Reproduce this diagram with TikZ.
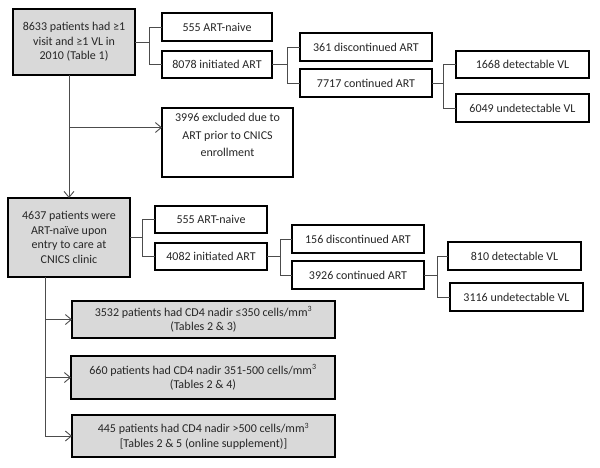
\documentclass[tikz,border=0pt]{standalone}
\usepackage{fontspec}
\setmainfont{Carlito}
\usetikzlibrary{arrows.meta}
\begin{document}
\begin{tikzpicture}[x=1pt,y=-1pt,
  box/.style={draw=black, line width=2.2pt, fill=white, inner sep=0pt, outer sep=0pt,
    align=center, font=\fontsize{12}{14.5}\selectfont, text=black!85},
  greybox/.style={box, fill=black!15},
  txt/.style={inner sep=0pt, align=center, font=\fontsize{12}{17.5}\selectfont, text=black!85},
  conn/.style={draw=black!70, line width=0.9pt},
  arr/.style={conn, -{Straight Barb[length=6pt,width=10pt,line width=0.9pt]}}]
\useasboundingbox[fill=white] (0,0) rectangle (600,467);
% top tree
\node[greybox, minimum width=122pt, minimum height=66pt] (b1) at (74,42) {8633 patients had ≥1\\visit and ≥1 VL in\\2010 (Table 1)};
\node[box, minimum width=110pt, minimum height=28pt] (b555a) at (217,27) {555 ART-naive};
\node[box, minimum width=110pt, minimum height=27pt] (b8078) at (217,64.5) {8078 initiated ART};
\node[box, minimum width=132pt, minimum height=28pt] (b361) at (366,47) {361 discontinued ART};
\node[box, minimum width=132pt, minimum height=28pt] (b7717) at (366,83) {7717 continued ART};
\node[box, minimum width=133pt, minimum height=27pt] (b1668) at (522.5,64.5) {1668 detectable VL};
\node[box, minimum width=133pt, minimum height=28pt] (b6049) at (522.5,108) {6049 undetectable VL};
\node[box, minimum width=131pt, minimum height=69pt] (bexcl) at (227.5,142.5) {};
\node[txt, anchor=north] (texcl) at ([yshift=-5pt]bexcl.north) {3996 excluded due to\\ART prior to CNICS\\enrollment};
% second tree
\node[greybox, minimum width=122pt, minimum height=79pt] (b4637) at (69,237.5) {4637 patients were\\ART-naïve upon\\entry to care at\\CNICS clinic};
\node[box, minimum width=112pt, minimum height=27pt] (b555b) at (211,219.5) {555 ART-naive};
\node[box, minimum width=112pt, minimum height=27pt] (b4082) at (211,256.5) {4082 initiated ART};
\node[box, minimum width=132pt, minimum height=28pt] (b156) at (358,239) {156 discontinued ART};
\node[box, minimum width=132pt, minimum height=28pt] (b3926) at (358,275) {3926 continued ART};
\node[box, minimum width=133pt, minimum height=28pt] (b810) at (514.5,256) {810 detectable VL};
\node[box, minimum width=133pt, minimum height=28pt] (b3116) at (516.5,297) {3116 undetectable VL};
% CD4 boxes
\node[greybox, minimum width=263pt, minimum height=37pt] (b3532) at (203.5,319.5) {3532 patients had CD4 nadir ≤350 cells/mm\textsuperscript{3}\\(Tables 2 \& 3)};
\node[greybox, minimum width=264pt, minimum height=43pt] (b660) at (203,377.5) {660 patients had CD4 nadir 351-500 cells/mm\textsuperscript{3}\\(Tables 2 \& 4)};
\node[greybox, minimum width=263pt, minimum height=42pt] (b445) at (203.5,436) {445 patients had CD4 nadir >500 cells/mm\textsuperscript{3}\\{}[Tables 2 \& 5 (online supplement)]};
% connectors top tree
\coordinate (j1) at ([xshift=-13pt]b555a.west);
\draw[conn] (b1.east) -- (j1 |- b1.east);
\draw[conn] (b555a.west) -| (j1) |- (b8078.west);
\coordinate (j2) at ([xshift=-13pt]b361.west);
\draw[conn] (b8078.east) -- (j2 |- b8078.east);
\draw[conn] (b361.west) -| (j2) |- (b7717.west);
\coordinate (j3) at ([xshift=-13pt]b1668.west);
\draw[conn] (b7717.east) -- (j3 |- b7717.east);
\draw[conn] (b1668.west) -| (j3) |- (b6049.west);
% main flow
\draw[arr] (b1.south -| b4637.north) -- (b4637.north);
\coordinate (ex) at ([yshift=15pt]bexcl.west);
\draw[arr] (b4637.north |- ex) -- (ex);
% connectors second tree
\coordinate (k1) at ([xshift=-13pt]b555b.west);
\draw[conn] (b4637.east) -- (k1 |- b4637.east);
\draw[conn] (b555b.west) -| (k1) |- (b4082.west);
\coordinate (k2) at ([xshift=-12pt]b156.west);
\draw[conn] (b4082.east) -- (k2 |- b4082.east);
\draw[conn] (b156.west) -| (k2) |- (b3926.west);
\coordinate (k3) at ([xshift=-11pt]b810.west);
\draw[conn] (b3926.east) -- (k3 |- b3926.east);
\draw[conn] (b810.west) -| (k3) |- (b3116.west);
% CD4 arrows
\coordinate (v0) at ([xshift=-24pt]b4637.south);
\draw[conn] (v0) -- (v0 |- b445.west);
\draw[arr] (v0 |- b3532.west) -- (b3532.west);
\draw[arr] (v0 |- b660.west) -- (b660.west);
\draw[arr] (v0 |- b445.west) -- (b445.west);
\end{tikzpicture}
\end{document}
